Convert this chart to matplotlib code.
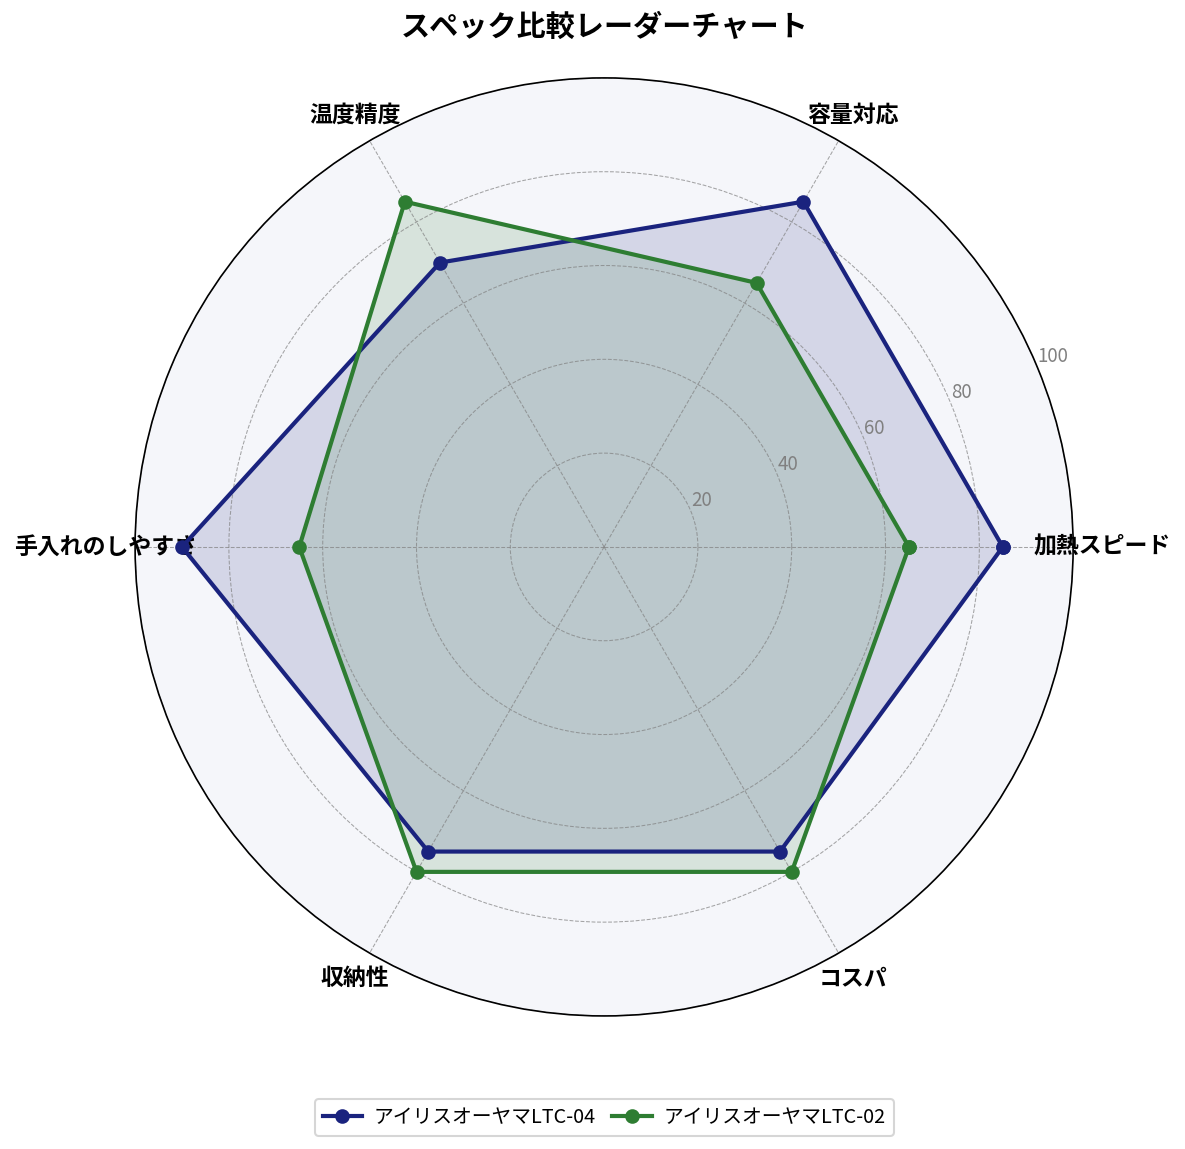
"""
Radar chart comparing two kettle specs
"""

import matplotlib
matplotlib.use("Agg")
import matplotlib.pyplot as plt
import numpy as np

plt.rcParams["font.family"] = ["Noto Sans CJK JP", "DejaVu Sans"]

categories = ["加熱スピード", "容量対応", "温度精度", "手入れのしやすさ", "収納性", "コスパ"]
ltc04 = [85, 85, 70, 90, 75, 75]
ltc02 = [65, 65, 85, 65, 80, 80]
series_names = ["アイリスオーヤマLTC-04", "アイリスオーヤマLTC-02"]
r_ticks = [20, 40, 60, 80, 100]

angles = np.linspace(0, 2 * np.pi, len(categories), endpoint=False)
angles_closed = np.concatenate([angles, angles[:1]])

fig = plt.figure(figsize=(7.9, 7.66), dpi=150)
ax = fig.add_axes([0.114, 0.1158, 0.7916, 0.8164], polar=True)
ax.set_facecolor("#f5f6fa")

for vals, name, col in [(ltc04, series_names[0], "#1a237e"),
                        (ltc02, series_names[1], "#2e7d32")]:
    v = np.concatenate([vals, vals[:1]])
    ax.plot(angles_closed, v, "-o", color=col, lw=2, ms=6, label=name)
    ax.fill(angles_closed, v, color=col, alpha=0.15)

ax.set_ylim(0, 100)
ax.set_xticks(angles)
ax.set_xticklabels(categories, fontsize=11, fontweight="bold")
ax.set_yticks(r_ticks)
ax.set_yticklabels([str(t) for t in r_ticks], fontsize=9, color="gray")
ax.set_rlabel_position(22.5)
ax.grid(True, color="gray", linestyle="--", linewidth=0.5, alpha=0.7)
ax.spines["polar"].set_linewidth(0.8)

fig.text(0.51, 0.9765, "スペック比較レーダーチャート", fontsize=14,
         fontweight="bold", ha="center", va="center")
ax.legend(loc="upper center", bbox_to_anchor=(0.5, -0.078), ncol=2,
          fontsize=9.5, columnspacing=0.8, handletextpad=0.6)

plt.savefig("out.png", dpi=150)
